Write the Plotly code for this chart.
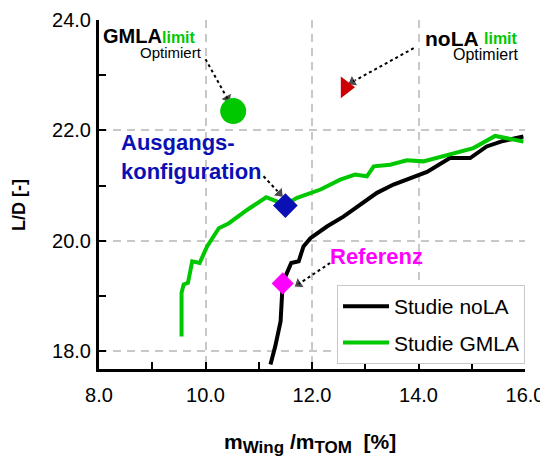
import plotly.graph_objects as go

# ---------------- data ----------------
gmla_x = [9.55, 9.55, 9.59, 9.67, 9.72, 9.75, 9.89, 10.03, 10.25, 10.44, 10.78, 11.14, 11.35, 11.50,
          11.72, 12.16, 12.53, 12.81, 13.03, 13.16, 13.47, 13.78, 14.09, 14.59, 15.03, 15.44, 15.72, 15.97]
gmla_y = [18.27, 19.06, 19.21, 19.24, 19.48, 19.63, 19.60, 19.90, 20.23, 20.32, 20.56, 20.79, 20.71, 20.66,
          20.78, 20.93, 21.11, 21.20, 21.17, 21.35, 21.38, 21.46, 21.44, 21.57, 21.68, 21.90, 21.85, 21.80]

nola_x = [11.22, 11.31, 11.41, 11.43, 11.45, 11.53, 11.61, 11.75, 11.84, 11.97, 12.28, 12.59, 12.91,
          13.22, 13.53, 13.84, 14.16, 14.59, 14.97, 15.28, 15.59, 15.97]
nola_y = [17.76, 18.09, 18.54, 19.06, 19.24, 19.42, 19.60, 19.63, 19.90, 20.05, 20.26, 20.44, 20.65,
          20.87, 21.02, 21.14, 21.25, 21.50, 21.50, 21.71, 21.81, 21.89]

# special points
gmla_limit = (10.52, 22.35)
nola_limit = (12.63, 22.78)
ausgang = (11.50, 20.64)
referenz = (11.45, 19.23)

# annotation arrows (start -> end) in data units
arrow_gmla = ([10.00, 10.41], [23.29, 22.58])
arrow_nola = ([13.91, 12.76], [23.49, 22.88])
arrow_ausg = ([11.09, 11.39], [21.17, 20.86])
arrow_ref = ([12.34, 11.75], [19.60, 19.22])

x_range = [8, 16]
y_range = [17.68, 24]

# ---------------- layout helpers ----------------
# the page body has an 8px margin, so the figure is drawn 8px in from the window corner
OFF = 8
W, H = 548 - OFF, 462 - OFF
L, R, T, B = 99 - OFF, 23, 20 - OFF, 93
PW, PH = W - L - R, H - T - B


def px(xp):  # window pixel x -> paper
    return (xp - OFF - L) / PW


def py(yp):  # window pixel y -> paper
    return (H - B - (yp - OFF)) / PH


GREEN = "#00C800"
BLUE = "#0A10B4"
MAGENTA = "#FF00FF"
RED = "#CC0000"
FONT = "Liberation Sans, Arial, sans-serif"

fig = go.Figure()

fig.add_trace(go.Scatter(x=nola_x, y=nola_y, mode="lines", name="Studie noLA",
                         line=dict(color="black", width=4), legendgroup="a"))
fig.add_trace(go.Scatter(x=gmla_x, y=gmla_y, mode="lines", name="Studie GMLA",
                         line=dict(color=GREEN, width=4), legendgroup="b"))

for ax_, ay_ in [arrow_gmla, arrow_nola, arrow_ausg, arrow_ref]:
    fig.add_trace(go.Scatter(x=ax_, y=ay_, mode="lines+markers", showlegend=False, hoverinfo="skip",
                             line=dict(color="black", width=2, dash="dot"),
                             marker=dict(symbol="triangle-up", angleref="previous", size=[0, 11],
                                         color="black")))

fig.add_trace(go.Scatter(x=[gmla_limit[0]], y=[gmla_limit[1]], mode="markers", showlegend=False,
                         marker=dict(symbol="circle", size=26, color=GREEN)))
fig.add_trace(go.Scatter(x=[nola_limit[0]], y=[nola_limit[1]], mode="markers", showlegend=False,
                         marker=dict(symbol="triangle-right", size=19, color=RED)))
fig.add_trace(go.Scatter(x=[ausgang[0]], y=[ausgang[1]], mode="markers", showlegend=False,
                         marker=dict(symbol="diamond", size=19, color=BLUE)))
fig.add_trace(go.Scatter(x=[referenz[0]], y=[referenz[1]], mode="markers", showlegend=False,
                         marker=dict(symbol="diamond", size=17, color=MAGENTA)))

grid = dict(showgrid=True, gridcolor="#C8C8C8", gridwidth=1.5, griddash="8px,6px",
            showline=True, linecolor="black", linewidth=3, mirror=False,
            ticks="inside", ticklen=7, tickwidth=2, tickcolor="black",
            tickformat=".1f", zeroline=False, automargin=False,
            tickfont=dict(family=FONT, size=20, color="black"))

fig.update_xaxes(range=x_range, tick0=8, dtick=2, ticklabelstandoff=6,
                 minor=dict(dtick=1, ticks="inside", ticklen=7, tickwidth=2, tickcolor="black",
                            showgrid=False), **grid)
fig.update_yaxes(range=y_range, tick0=18, dtick=2, ticklabelstandoff=1,
                 minor=dict(dtick=1, ticks="inside", ticklen=7, tickwidth=2, tickcolor="black",
                            showgrid=False), **grid)


def ann(text, xp, yp, size, color="black", xanchor="center", align="center", angle=0):
    fig.add_annotation(text=text, x=px(xp), y=py(yp), xref="paper", yref="paper",
                       xanchor=xanchor, yanchor="middle", showarrow=False, align=align,
                       textangle=angle, font=dict(family=FONT, size=size, color=color))


ann("<b>GMLA</b>", 132.5, 36, 20)
ann("<b>limit</b>", 179, 37, 16, GREEN)
ann("Optimiert", 171, 52, 15)
ann("<b>noLA</b>", 451.7, 38, 21)
ann("<b>limit</b>", 500.5, 38.5, 16, GREEN)
ann("Optimiert", 485, 54, 16)
ann("<b>Ausgangs-<br>konfiguration</b>", 119, 157, 22, BLUE, xanchor="left", align="left")
ann("<b>Referenz</b>", 328, 256, 22, MAGENTA, xanchor="left")
ann("<b>m<sub><span style='font-size:17px'>Wing</span></sub> /m<sub><span style='font-size:17px'>TOM</span></sub>  [%]</b>",
    310, 443, 21)
ann("<b>L/D [-]</b>", 19, 205, 18, angle=-90)

fig.update_layout(
    template="none",
    width=W, height=H, margin=dict(l=L, r=R, t=T, b=B),
    paper_bgcolor="white", plot_bgcolor="white",
    font=dict(family=FONT, color="black"),
    legend=dict(x=1.0, xanchor="right", y=py(285), yanchor="top",
                bgcolor="white", bordercolor="#C8C8C8", borderwidth=1,
                font=dict(family=FONT, size=21, color="black"),
                tracegroupgap=6, traceorder="grouped", itemwidth=46),
)

fig.write_html("out.html")
